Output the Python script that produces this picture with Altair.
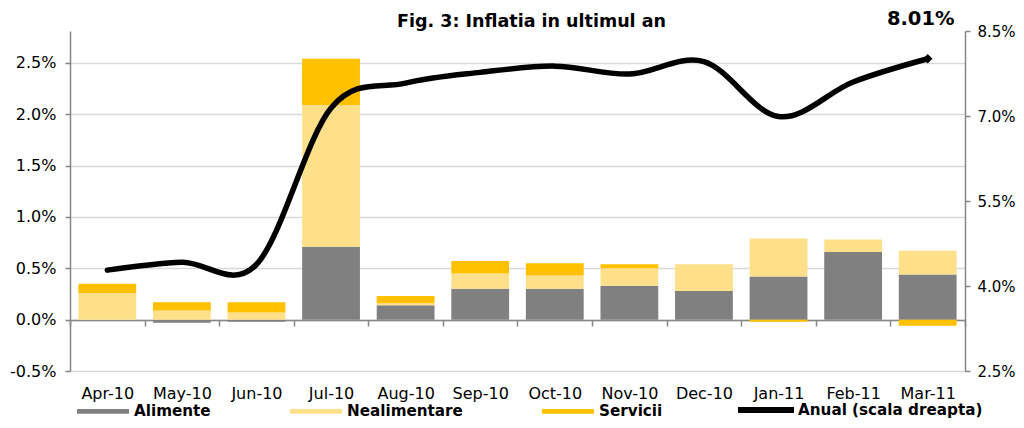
import altair as alt
import pandas as pd

# ---- data ----
months = ["Apr-10", "May-10", "Jun-10", "Jul-10", "Aug-10", "Sep-10",
          "Oct-10", "Nov-10", "Dec-10", "Jan-11", "Feb-11", "Mar-11"]
alimente = [0.00, -0.03, -0.02, 0.71, 0.14, 0.30, 0.30, 0.33, 0.28, 0.42, 0.66, 0.44]
nealimentare = [0.26, 0.09, 0.07, 1.38, 0.02, 0.15, 0.13, 0.17, 0.26, 0.37, 0.12, 0.23]
servicii = [0.09, 0.08, 0.10, 0.45, 0.07, 0.12, 0.12, 0.04, 0.00, -0.02, 0.00, -0.06]
anual = [4.28, 4.42, 4.38, 7.14, 7.58, 7.77, 7.88, 7.74, 7.96, 6.99, 7.60, 8.01]

bar_series = ["Alimente", "Nealimentare", "Servicii"]
bar_colors = ["#808080", "#FFE08A", "#FFC000"]
line_series = ["Anual (scala dreapta)"]
line_colors = ["#000000"]
left_ticks = [-0.5, 0.0, 0.5, 1.0, 1.5, 2.0, 2.5]
right_ticks = [2.5, 4.0, 5.5, 7.0, 8.5]
title_text = "Fig. 3: Inflatia in ultimul an"

rows = []
for i, m in enumerate(months):
    for k, (name, vals) in enumerate(zip(bar_series, [alimente, nealimentare, servicii])):
        rows.append({"month": m, "series": name, "value": vals[i], "order": k})
bars_df = pd.DataFrame(rows)
line_df = pd.DataFrame({"month": months, "anual": anual, "series": line_series[0]})

FONT = "DejaVu Sans"
GRAY = "#868686"
PCT = "(datum.value < 0 ? '-' : '') + format(abs(datum.value), '.1f') + '%'"

bar_legend = alt.Legend(
    title=None, orient="none", legendX=7, legendY=354, direction="horizontal",
    columns=3, columnPadding=79, padding=0,
    symbolType="M-1,-0.09H1V0.09H-1Z", symbolSize=2704, symbolStrokeWidth=0,
    labelFont=FONT, labelFontSize=15.2, labelFontWeight="bold", labelColor="black",
    labelBaseline="middle", labelOffset=5, labelLimit=400,
)
line_legend = alt.Legend(
    title=None, orient="none", legendX=665, legendY=348, direction="horizontal",
    padding=0, symbolType="stroke", symbolSize=3136, symbolStrokeWidth=6,
    symbolStrokeColor="black",
    labelFont=FONT, labelFontSize=15.2, labelFontWeight="bold", labelColor="black",
    labelBaseline="middle", labelOffset=1, labelLimit=400,
)

x_enc = alt.X(
    "month:N", sort=months, title=None,
    scale=alt.Scale(paddingInner=0, paddingOuter=0),
    axis=alt.Axis(
        orient="bottom", offset=-51, domainColor=GRAY, domainWidth=1.5,
        tickColor=GRAY, tickWidth=1.5, tickSize=6, tickBand="extent",
        labelPadding=59, labelFont=FONT, labelFontSize=16, labelColor="black",
        labelAngle=0, grid=False,
    ),
)

bars = alt.Chart(bars_df).mark_bar(width=alt.RelativeBandSize(0.775)).encode(
    x=x_enc,
    y=alt.Y(
        "value:Q", stack="zero", title=None,
        scale=alt.Scale(domain=[-0.5, 2.811], nice=False, zero=False),
        axis=alt.Axis(
            values=left_ticks, labelExpr=PCT,
            grid=True, gridColor="#D9D9D9", gridWidth=1.5,
            domainColor=GRAY, domainWidth=1.5, tickColor=GRAY, tickWidth=1.5,
            tickSize=5, labelPadding=9, labelFont=FONT, labelFontSize=16,
            labelColor="black",
        ),
    ),
    color=alt.Color("series:N", scale=alt.Scale(domain=bar_series, range=bar_colors),
                    legend=bar_legend),
    order=alt.Order("order:Q"),
)

right_axis = alt.Axis(
    orient="right", values=right_ticks, labelExpr=PCT,
    grid=False, domainColor=GRAY, domainWidth=1.5, tickColor=GRAY, tickWidth=1.5,
    tickSize=5, labelPadding=7, labelFont=FONT, labelFontSize=15, labelColor="black",
)
y_right = alt.Y("anual:Q", title=None,
                scale=alt.Scale(domain=[2.5, 8.5], nice=False, zero=False),
                axis=right_axis)

line = alt.Chart(line_df).mark_line(strokeWidth=5.5, interpolate="cardinal", strokeCap="round").encode(
    x=alt.X("month:N", sort=months),
    y=y_right,
    stroke=alt.Stroke("series:N", scale=alt.Scale(domain=line_series, range=line_colors),
                      legend=line_legend),
)

last = alt.Chart(line_df).transform_filter(
    alt.datum.month == months[-1]
).mark_point(shape="diamond", filled=True, color="black", size=90, opacity=1).encode(
    x=alt.X("month:N", sort=months),
    y=y_right,
)

label = alt.Chart(line_df).transform_filter(
    alt.datum.month == months[-1]
).transform_calculate(
    txt="format(datum.anual, '.2f') + '%'"
).mark_text(font=FONT, fontSize=19.5, fontWeight="bold", color="black",
            dx=-7, baseline="middle", align="center").encode(
    x=alt.X("month:N", sort=months),
    y=alt.value(-12),
    text="txt:N",
)

right = alt.layer(line, last, label)

chart = alt.layer(bars, right).resolve_scale(y="independent").properties(
    width=895, height=340,
    autosize=alt.AutoSizeParams(type="none"),
    padding={"left": 62, "top": 23, "right": 51, "bottom": 49},
    title=alt.TitleParams(title_text, font=FONT, fontSize=17.5, fontWeight="bold",
                          color="black", anchor="middle", frame="group", dx=14,
                          offset=4, dy=25),
).configure_view(stroke=None)

chart.save("out.html", embed_options={"renderer": "svg", "actions": False})
